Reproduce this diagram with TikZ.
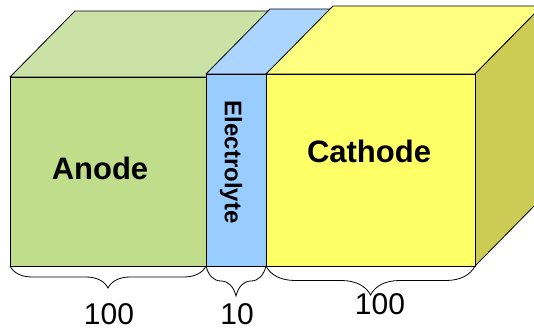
\documentclass[tikz,border=0pt]{standalone}
\usepackage{fontspec}
\setmainfont{Liberation Sans}
\usepackage{tikz}
\usetikzlibrary{decorations.pathreplacing}
\definecolor{anodefront}{HTML}{C0DD8C}
\definecolor{anodetop}{HTML}{CBE2A7}
\definecolor{elecfront}{HTML}{99CCFF}
\definecolor{electop}{HTML}{ABD5FF}
\definecolor{cathfront}{HTML}{FFFF66}
\definecolor{cathtop}{HTML}{FFFF80}
\definecolor{cathside}{HTML}{CCCC55}
\tikzset{
  face/.style={draw=black, line width=0.8pt, line join=round},
  lab/.style={font=\fontsize{31}{36}\selectfont\bfseries, inner sep=0pt},
  labv/.style={font=\fontsize{24}{28}\selectfont\bfseries, inner sep=0pt, rotate=-90},
  dim/.style={font=\fontsize{30}{34}\selectfont, inner sep=0pt},
  brc/.style={draw=black, line width=0.8pt, decorate, decoration={brace, mirror, amplitude=#1}},
}
\begin{document}
\begin{tikzpicture}[x=1pt,y=-1pt]
  \useasboundingbox (0,0) rectangle (534,332);
  \clip (0,0) rectangle (534,332);
  % anode block
  \coordinate (A) at (10,266);
  \coordinate (B) at (206,266);
  \coordinate (C) at (266,266);
  \coordinate (D) at (475,266);
  \draw[face, fill=anodetop] (10,77) -- (75,11) -- (271,11) -- (206,77) -- cycle;
  \draw[face, fill=anodefront] (10,77) rectangle (B);
  % electrolyte layer
  \draw[face, fill=electop] (206,74) -- (270,9) -- (332,9) -- (266,74) -- cycle;
  \draw[face, fill=elecfront] (206,74) rectangle (C);
  % cathode block
  \draw[face, fill=cathtop] (266,74) -- (333,6) -- (542,6) -- (475,74) -- cycle;
  \draw[face, fill=cathside] (475,74) -- (542,6) -- (542,198) -- (D) -- cycle;
  \draw[face, fill=cathfront] (266,74) rectangle (D);
  % labels
  \node[lab] (anode) at (100,168) {Anode};
  \node[lab] (cathode) at (369,151) {Cathode};
  \node[labv] (elec) at (231,162) {Electrolyte};
  % thickness braces
  \draw[brc=22pt] (A) -- (B);
  \draw[brc=30pt] (B) -- (C);
  \draw[brc=29pt] (C) -- (D);
  \node[dim] (wa) at (109,314) {100};
  \node[dim] (we) at (237,314) {10};
  \node[dim] (wc) at (380,304) {100};
\end{tikzpicture}
\end{document}
